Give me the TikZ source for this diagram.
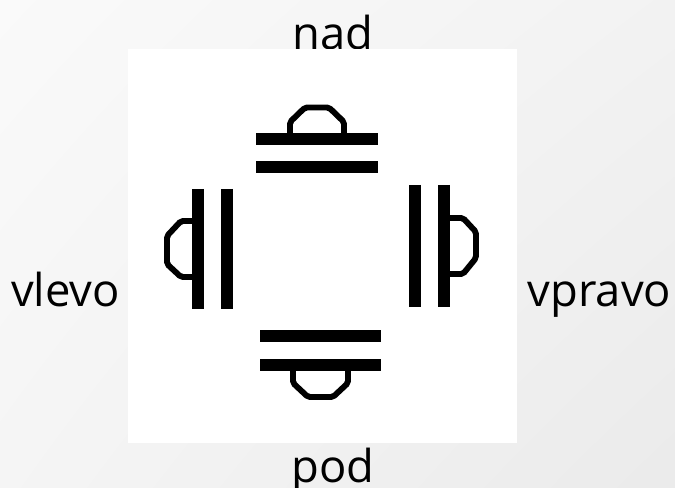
\documentclass[tikz,border=0pt]{standalone}
\usepackage{fontspec}
\usetikzlibrary{shadings}
\setmainfont{Open Sans}
\tikzset{
  bar/.style={line width=9.6pt,black},
  dome/.style={line width=4.4pt,black,rounded corners=1.5pt},
  lab/.style={inner sep=0pt,outer sep=0pt,anchor=base,text=black,font=\fontsize{34pt}{40pt}\selectfont}
}
\begin{document}
\begin{tikzpicture}[x=0.75pt,y=-0.75pt]
\useasboundingbox (0,0) rectangle (675,488);
\shade[shading=bilinear interpolation,upper left=white!98!black,upper right=white!95!black,lower left=white!96!black,lower right=white!92!black] (0,0) rectangle (675,488);
\node[lab] (nad) at (333,49.5) {nad};
\node[lab] (pod) at (333,482) {pod};
\node[lab] (vlevo) at (65.5,307) {vlevo};
\node[lab] (vpravo) at (599.5,307) {vpravo};
\fill[white] (128,49) rectangle (517,443);
% top
\draw[bar] (256,139) -- (378,139);
\draw[bar] (256,167) -- (378,167);
\draw[dome] (290,135) -- (290,122) -- (305,107.5) -- (329,107.5) -- (344,122) -- (344,135);
% left
\draw[bar] (198,189) -- (198,309);
\draw[bar] (227,189) -- (227,309);
\draw[dome] (194,221) -- (181,221) -- (167,236) -- (167,264) -- (181,277) -- (194,277);
% right
\draw[bar] (415,185) -- (415,307);
\draw[bar] (444,185) -- (444,307);
\draw[dome] (448,218) -- (463,218) -- (476,232) -- (476,258) -- (463,274) -- (448,274);
% bottom
\draw[bar] (260,336) -- (381,336);
\draw[bar] (260,365) -- (381,365);
\draw[dome] (293,369) -- (293,383) -- (308,397) -- (333,397) -- (348,383) -- (348,369);
\end{tikzpicture}
\end{document}
